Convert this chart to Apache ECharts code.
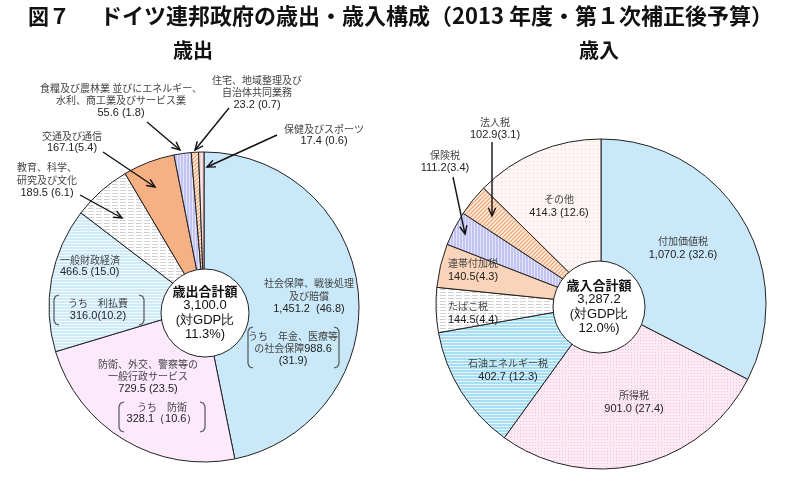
<!DOCTYPE html>
<html><head><meta charset="utf-8">
<script src="https://cdn.jsdelivr.net/npm/echarts@6/dist/echarts.min.js"></script>
<style>html,body{margin:0;padding:0;background:#fff}#c{width:794px;height:482px}</style>
</head><body><div id="c"></div>
<script>
// ---------- data ----------
const expNames = ['社会保障、戦後処理\n及び賠償', '防衛、外交、警察等の\n一般行政サービス', '一般財政経済', '教育、科学、\n研究及び文化', '交通及び通信', '食糧及び農林業 並びにエネルギー、\n水利、商工業及びサービス業', '住宅、地域整理及び\n自治体共同業務', '保健及びスポーツ'];
const expValues = [1451.2, 729.5, 466.5, 189.5, 167.1, 55.6, 23.2, 17.4];
const expShares = [46.8, 23.5, 15.0, 6.1, 5.4, 1.8, 0.7, 0.6];
const revNames = ['付加価値税', '所得税', '石油エネルギー税', 'たばこ税', '連帯付加税', '保険税', '法人税', 'その他'];
const revValues = [1070.2, 901.0, 402.7, 144.5, 140.5, 111.2, 102.9, 414.3];
const revShares = [32.6, 27.4, 12.3, 4.4, 4.3, 3.4, 3.1, 12.6];
const totalNames = ['歳出合計額', '歳入合計額'];
const totalValues = [3100.0, 3287.2];
const totalGdpShares = [11.3, 12.0];
const noteNames = ['うち　利払費', 'うち　年金、医療等\nの社会保障', 'うち　防衛'];
const noteValues = [316.0, 988.6, 328.1];
const noteShares = [10.2, 31.9, 10.6];
const titleParts = ['図７', 'ドイツ連邦政府の歳出・歳入構成（2013 年度・第１次補正後予算）'];
const subTitles = ['歳出', '歳入'];

// ---------- layout / style ----------
const FJ = '"Noto Sans CJK JP", sans-serif';
const FL = '"Liberation Sans", Arial, sans-serif';
const expSep = ['  ', ' ', ' ', ' ', '', ' ', ' ', ' '];
const revSep = [' ', ' ', ' ', '', '', '', '', ' '];
const expLabelPos = [[309,296,'center'],[148,376.5,'center'],[60,266,'left'],[47,180,'center'],[72,142,'center'],[121,100.5,'center'],[257,92.5,'center'],[324,135,'center']];
const revLabelPos = [[683,248,'center'],[634,402,'center'],[508,370,'center'],[448,313,'left'],[448,270,'left'],[445,161.5,'center'],[495,128.5,'center'],[559,206,'center']];

function fmt(v){
  const s = v.toFixed(1); const parts = s.split('.');
  return parts[0].replace(/\B(?=(\d{3})+(?!\d))/g, ',') + '.' + parts[1];
}
function pat(w,h,bg,draw){
  const c=document.createElement('canvas');c.width=w;c.height=h;
  const g=c.getContext('2d');g.fillStyle=bg;g.fillRect(0,0,w,h);if(draw)draw(g);
  return {image:c,repeat:'repeat'};
}
function diag(bg, fg){
  return pat(4,4,bg,g=>{g.strokeStyle=fg;g.lineWidth=1.3;g.beginPath();
    g.moveTo(0,4);g.lineTo(4,0);g.moveTo(-1,1);g.lineTo(1,-1);g.moveTo(3,5);g.lineTo(5,3);g.stroke();});
}
const C = {
  blue:'#c9e8f9',
  lav:'#fce9fc',
  blueH: pat(4,3,'#cfeaf9',g=>{g.fillStyle='#f4fbff';g.fillRect(0,0,4,1);}),
  grayDash: pat(8,3,'#ffffff',g=>{g.fillStyle='#d2d2d2';g.fillRect(0,1,6,1);}),
  orange:'#f5b183',
  lavV: pat(3,4,'#c3c3f4',g=>{g.fillStyle='#e4e4fc';g.fillRect(0,0,1,4);}),
  orangeDiag: diag('#fff4ec','#f2a672'),
  pinkV: pat(3,4,'#f7cfd0',g=>{g.fillStyle='#fdeeee';g.fillRect(0,0,1,4);}),
  cyanH: pat(4,3,'#a8def4',g=>{g.fillStyle='#e6f6fd';g.fillRect(0,0,4,1);}),
  peach:'#f9d4ba',
  pinkDot: pat(3,3,'#fde9f4',g=>{g.fillStyle='#f3c3dc';g.fillRect(1,1,1,1);}),
  lightDot: pat(4,4,'#fff7f6',g=>{g.fillStyle='#efc3c3';g.fillRect(1,1,1,1);})
};
const expColors = [C.blue, C.lav, C.blueH, C.grayDash, C.orange, C.lavV, C.orangeDiag, C.pinkV];
const revColors = [C.blue, C.pinkDot, C.cyanH, C.grayDash, C.peach, C.lavV, C.orangeDiag, C.lightDot];

const labelRich = (lh) => ({
  n:{fontSize:10, color:'#444', lineHeight:lh, fontFamily:FJ},
  v:{fontSize:11, color:'#222', lineHeight:lh, fontFamily:FL}
});
function labelText(name, value, share, sep){
  return name.split('\n').map(l=>'{n|'+l+'}').join('\n') + '\n{v|' + fmt(value) + sep + '(' + share.toFixed(1) + ')}';
}
function pieSeries(center, radius, names, values, shares, seps, colors, pos, lh){
  return {
    type:'pie', center:center, radius:[0, radius], startAngle:90, clockwise:true,
    animation:false, silent:true, emphasis:{disabled:true},
    itemStyle:{borderColor:'#222', borderWidth:1},
    label:{show:true, position:'inside', rich:labelRich(lh),
      formatter:p=>labelText(names[p.dataIndex], values[p.dataIndex], shares[p.dataIndex], seps[p.dataIndex])},
    labelLine:{show:false},
    labelLayout:p=>{const q=pos[p.dataIndex];return {x:q[0], y:q[1], align:q[2], verticalAlign:'middle'};},
    data: values.map((v,i)=>({name:names[i], value:v, itemStyle:{color:colors[i]}}))
  };
}
function centerSeries(center, radius, idx){
  return {
    type:'pie', center:center, radius:[0, radius], animation:false, silent:true, emphasis:{disabled:true},
    itemStyle:{color:'#fff', borderColor:'#222', borderWidth:1},
    label:{show:true, position:'center',
      formatter:'{t|'+totalNames[idx]+'}\n{v|'+fmt(totalValues[idx])+'}\n{v|(対GDP比}\n{v|'+totalGdpShares[idx].toFixed(1)+'%)}',
      rich:{t:{fontSize:13, fontWeight:'bold', color:'#111', lineHeight:14.5, fontFamily:FJ},
            v:{fontSize:13, color:'#111', lineHeight:14.5, fontFamily:FL}}},
    labelLine:{show:false},
    data:[{name:totalNames[idx], value:1}]
  };
}

// ---------- annotations ----------
function arrow(x1,y1,x2,y2){
  const a=Math.atan2(y2-y1,x2-x1), L=9, h=0.42;
  const st={stroke:'#111', lineWidth:1.4, fill:null};
  return [
    {type:'line', shape:{x1:x1,y1:y1,x2:x2,y2:y2}, style:st, z:10},
    {type:'polyline', shape:{points:[[x2-L*Math.cos(a-h), y2-L*Math.sin(a-h)],[x2,y2],[x2-L*Math.cos(a+h), y2-L*Math.sin(a+h)]]}, style:st, z:10}
  ];
}
function bracket(x,y0,y1,dir){
  return {type:'polyline', z:10, shape:{points:[[x+dir*5,y0],[x+dir*1.5,y0+1.2],[x,y0+4.5],[x,y1-4.5],[x+dir*1.5,y1-1.2],[x+dir*5,y1]]},
    style:{stroke:'#555', lineWidth:1.2, fill:null}};
}
const arrows = [[147,122,180,150],[229,108,195,150],[277,135,207,167],[103,152,155,187],[80,195,122,218],[492,142,492,216],[453,177,465,234]];
const notePos = [[98,309.5,54,144,295,325],[293,348.5,248,339,327,368],[162,413,119,205,402,432]];
const noteFmt = [
  i=>'{n|'+noteNames[i]+'}\n{v|'+fmt(noteValues[i])+'('+noteShares[i].toFixed(1)+')}',
  i=>{const l=noteNames[i].split('\n');return '{n|'+l[0]+'}\n{n|'+l[1]+'}{v|'+fmt(noteValues[i])+'}\n{v|('+noteShares[i].toFixed(1)+')}';},
  i=>'{n|'+noteNames[i]+'}\n{v|'+fmt(noteValues[i])+'（'+noteShares[i].toFixed(1)+'）}'
];
const graphics = [];
graphics.push({type:'text', z:10, style:{text:titleParts[0], x:28, y:16, verticalAlign:'middle', align:'left', font:'bold 21px '+FJ, fill:'#111'}});
graphics.push({type:'text', z:10, style:{text:titleParts[1], x:100, y:16, verticalAlign:'middle', align:'left', font:'bold 22px '+FJ, fill:'#111'}});
graphics.push({type:'text', z:10, style:{text:subTitles[0], x:193, y:50, align:'center', verticalAlign:'middle', font:'bold 20px '+FJ, fill:'#111'}});
graphics.push({type:'text', z:10, style:{text:subTitles[1], x:599, y:50, align:'center', verticalAlign:'middle', font:'bold 20px '+FJ, fill:'#111'}});
arrows.forEach(a=>graphics.push(...arrow(a[0],a[1],a[2],a[3])));
notePos.forEach((p,i)=>{
  graphics.push(bracket(p[2],p[4],p[5],1));
  graphics.push(bracket(p[3],p[4],p[5],-1));
  graphics.push({type:'text', z:10, style:{text:noteFmt[i](i), x:p[0], y:p[1], align:'center', verticalAlign:'middle',
    rich:{n:{fontSize:10, fill:'#444', lineHeight:12.5, fontFamily:FJ}, v:{fontSize:11, fill:'#222', lineHeight:12.5, fontFamily:FL}}}});
});

const chart = echarts.init(document.getElementById('c'), null, {renderer:'canvas'});
chart.setOption({
  animation:false,
  backgroundColor:'#fff',
  series:[
    pieSeries([204,307], 155, expNames, expValues, expShares, expSep, expColors, expLabelPos, 12.5),
    pieSeries([601,304], 165, revNames, revValues, revShares, revSep, revColors, revLabelPos, 13),
    centerSeries([205,313], 44, 0),
    centerSeries([599,307], 46, 1)
  ],
  graphic: graphics
});
</script>
</body></html>
